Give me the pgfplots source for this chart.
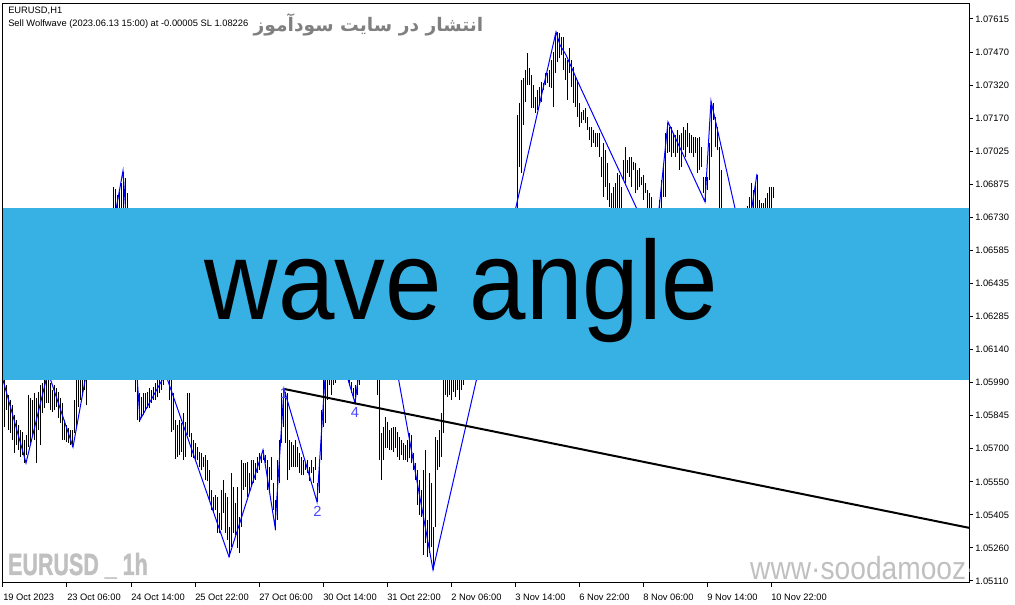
\documentclass[border=0pt]{standalone}
\usepackage{fontspec}
\setmainfont{Liberation Sans}
\newfontfamily\fafont[Script=Arabic]{DejaVu Sans}
\newfontfamily\heavy[FakeBold=1.5]{Liberation Sans}
\usepackage{pgfplots}
\usepackage{pgfplotstable}
\pgfplotsset{compat=1.18}
\TeXXeTstate=1
\definecolor{banner}{HTML}{37B1E3}
\definecolor{wolf}{RGB}{0,0,255}
\definecolor{lbl}{RGB}{70,70,255}
\definecolor{wm}{HTML}{C0C0C0}
\definecolor{fagray}{HTML}{808080}

% H1 bars: index, low, high
\pgfplotstableread{
i lo hi
0 1.05917 1.06073
1 1.05797 1.06029
2 1.05872 1.05984
3 1.05783 1.05940
4 1.05770 1.05917
5 1.05739 1.05895
6 1.05681 1.05850
7 1.05716 1.05828
8 1.05694 1.05806
9 1.05663 1.05783
10 1.05672 1.05774
11 1.05636 1.05739
12 1.05672 1.05761
13 1.05707 1.05940
14 1.05725 1.05926
15 1.05752 1.05917
16 1.05739 1.05949
17 1.05636 1.05926
18 1.05783 1.05953
19 1.05716 1.05984
20 1.05859 1.05993
21 1.05881 1.06029
22 1.05904 1.06051
23 1.05904 1.06042
24 1.05872 1.05993
25 1.05863 1.05962
26 1.05872 1.05984
27 1.05886 1.05971
28 1.05837 1.05953
29 1.05814 1.05926
30 1.05739 1.05904
31 1.05739 1.05828
32 1.05730 1.05806
33 1.05725 1.05792
34 1.05716 1.05783
35 1.05707 1.05783
36 1.05770 1.05917
37 1.05797 1.06006
38 1.05886 1.06051
39 1.05917 1.06096
40 1.05949 1.06140
41 1.05962 1.06185
42 1.05895 1.06229
43 1.06006 1.06274
44 1.06051 1.06229
45 1.06096 1.06274
46 1.06162 1.06341
47 1.06207 1.06363
48 1.06274 1.06430
49 1.06296 1.06452
50 1.06341 1.06497
51 1.06386 1.06564
52 1.06430 1.06608
53 1.06497 1.06653
54 1.06533 1.06698
55 1.06631 1.06866
56 1.06653 1.06858
57 1.06675 1.06831
58 1.06711 1.06844
59 1.06742 1.06884
60 1.06764 1.06933
61 1.06675 1.06907
62 1.06586 1.06840
63 1.06363 1.06631
64 1.06185 1.06452
65 1.06051 1.06274
66 1.05953 1.06185
67 1.05828 1.06006
68 1.05819 1.05949
69 1.05841 1.05930
70 1.05850 1.05949
71 1.05872 1.05949
72 1.05881 1.05953
73 1.05881 1.05971
74 1.05904 1.05962
75 1.05917 1.05975
76 1.05917 1.05993
77 1.05930 1.06029
78 1.05949 1.06051
79 1.05962 1.06033
80 1.05984 1.06033
81 1.06015 1.06033
82 1.06029 1.06030
83 1.05917 1.06020
84 1.05774 1.06006
85 1.05783 1.05949
86 1.05654 1.05828
87 1.05663 1.05806
88 1.05672 1.05828
89 1.05685 1.05814
90 1.05649 1.05859
91 1.05663 1.05819
92 1.05761 1.05949
93 1.05752 1.05949
94 1.05663 1.05770
95 1.05658 1.05739
96 1.05649 1.05725
97 1.05649 1.05707
98 1.05617 1.05685
99 1.05605 1.05681
100 1.05617 1.05663
101 1.05561 1.05672
102 1.05556 1.05649
103 1.05472 1.05605
104 1.05427 1.05516
105 1.05414 1.05485
106 1.05427 1.05494
107 1.05325 1.05485
108 1.05325 1.05414
109 1.05338 1.05516
110 1.05414 1.05560
111 1.05325 1.05503
112 1.05293 1.05485
113 1.05218 1.05352
114 1.05263 1.05592
115 1.05325 1.05529
116 1.05316 1.05459
117 1.05258 1.05529
118 1.05236 1.05396
119 1.05352 1.05649
120 1.05516 1.05636
121 1.05529 1.05636
122 1.05485 1.05640
123 1.05503 1.05592
124 1.05529 1.05649
125 1.05547 1.05649
126 1.05561 1.05636
127 1.05592 1.05663
128 1.05605 1.05681
129 1.05636 1.05672
130 1.05649 1.05694
131 1.05636 1.05672
132 1.05516 1.05649
133 1.05516 1.05617
134 1.05560 1.05663
135 1.05427 1.05547
136 1.05338 1.05472
137 1.05383 1.05649
138 1.05547 1.05739
139 1.05725 1.05949
140 1.05797 1.05971
141 1.05725 1.05953
142 1.05560 1.05949
143 1.05605 1.05739
144 1.05617 1.05730
145 1.05617 1.05716
146 1.05617 1.05739
147 1.05617 1.05707
148 1.05592 1.05681
149 1.05583 1.05663
150 1.05583 1.05649
151 1.05605 1.05636
152 1.05592 1.05649
153 1.05556 1.05617
154 1.05592 1.05649
155 1.05547 1.05617
156 1.05605 1.05663
157 1.05463 1.05547
158 1.05503 1.05649
159 1.05649 1.05872
160 1.05797 1.06051
161 1.05814 1.06073
162 1.05917 1.06229
163 1.05984 1.06292
164 1.05940 1.06251
165 1.05984 1.06220
166 1.05993 1.06185
167 1.06024 1.06162
168 1.06042 1.06131
169 1.06024 1.06104
170 1.06015 1.06073
171 1.06011 1.06051
172 1.06011 1.06033
173 1.05980 1.06015
174 1.05948 1.05997
175 1.05926 1.05971
176 1.05904 1.05984
177 1.05940 1.06051
178 1.05984 1.06185
179 1.06029 1.06274
180 1.06051 1.06341
181 1.06073 1.06408
182 1.06096 1.06474
183 1.06087 1.06533
184 1.06060 1.06564
185 1.06051 1.06586
186 1.06029 1.06590
187 1.05940 1.06497
188 1.05650 1.06452
189 1.05560 1.05770
190 1.05649 1.05797
191 1.05703 1.05841
192 1.05703 1.05819
193 1.05694 1.05783
194 1.05694 1.05792
195 1.05685 1.05797
196 1.05703 1.05797
197 1.05663 1.05774
198 1.05649 1.05752
199 1.05672 1.05739
200 1.05649 1.05725
201 1.05649 1.05716
202 1.05640 1.05739
203 1.05658 1.05770
204 1.05636 1.05761
205 1.05605 1.05681
206 1.05561 1.05636
207 1.05449 1.05605
208 1.05405 1.05561
209 1.05396 1.05516
210 1.05227 1.05605
211 1.05280 1.05694
212 1.05218 1.05383
213 1.05236 1.05592
214 1.05263 1.05547
215 1.05160 1.05352
216 1.05352 1.05752
217 1.05605 1.05739
218 1.05617 1.05783
219 1.05663 1.05859
220 1.05770 1.06051
221 1.05940 1.06118
222 1.05930 1.06140
223 1.05940 1.06162
224 1.05917 1.06140
225 1.05953 1.06162
226 1.05930 1.06185
227 1.05962 1.06207
228 1.05917 1.06229
229 1.05962 1.06229
230 1.05984 1.06207
231 1.06015 1.06185
232 1.06029 1.06162
233 1.06042 1.06185
234 1.06029 1.06162
235 1.06029 1.06185
236 1.06029 1.06207
237 1.06042 1.06229
238 1.06051 1.06274
239 1.06073 1.06318
240 1.06118 1.06363
241 1.06140 1.06408
242 1.06185 1.06430
243 1.06229 1.06474
244 1.06274 1.06519
245 1.06296 1.06541
246 1.06341 1.06586
247 1.06363 1.06631
248 1.06408 1.06653
249 1.06430 1.06684
250 1.06474 1.06711
251 1.06519 1.06729
252 1.06564 1.06742
253 1.06586 1.06755
254 1.06608 1.06755
255 1.06631 1.06764
256 1.06653 1.06764
257 1.06630 1.07187
258 1.06956 1.07241
259 1.06929 1.07343
260 1.07143 1.07352
261 1.07245 1.07388
262 1.07321 1.07464
263 1.07321 1.07397
264 1.07219 1.07366
265 1.07219 1.07321
266 1.07196 1.07268
267 1.07210 1.07299
268 1.07241 1.07312
269 1.07245 1.07335
270 1.07299 1.07330
271 1.07321 1.07375
272 1.07330 1.07375
273 1.07312 1.07388
274 1.07308 1.07433
275 1.07223 1.07468
276 1.07375 1.07553
277 1.07424 1.07557
278 1.07441 1.07553
279 1.07455 1.07535
280 1.07388 1.07535
281 1.07343 1.07441
282 1.07254 1.07433
283 1.07375 1.07486
284 1.07312 1.07433
285 1.07241 1.07401
286 1.07223 1.07357
287 1.07179 1.07343
288 1.07134 1.07241
289 1.07152 1.07201
290 1.07165 1.07210
291 1.07152 1.07219
292 1.07121 1.07179
293 1.07076 1.07134
294 1.07045 1.07134
295 1.07063 1.07121
296 1.07045 1.07107
297 1.07045 1.07107
298 1.07000 1.07107
299 1.06911 1.07000
300 1.06822 1.07063
301 1.06867 1.07031
302 1.06809 1.06974
303 1.06777 1.06884
304 1.06653 1.06840
305 1.06630 1.06867
306 1.06630 1.06884
307 1.06653 1.06929
308 1.06630 1.06920
309 1.06608 1.06867
310 1.06898 1.06987
311 1.06884 1.07045
312 1.06929 1.06987
313 1.06911 1.07000
314 1.06867 1.07000
315 1.06942 1.06978
316 1.06840 1.06974
317 1.06853 1.06942
318 1.06867 1.06951
319 1.06875 1.06911
320 1.06809 1.06920
321 1.06840 1.06884
322 1.06653 1.06853
323 1.06630 1.06840
324 1.06608 1.06822
325 1.06586 1.06742
326 1.06586 1.06719
327 1.06608 1.06742
328 1.06630 1.06809
329 1.06675 1.06898
330 1.06822 1.06974
331 1.06822 1.07107
332 1.07018 1.07152
333 1.07023 1.07134
334 1.07000 1.07134
335 1.07018 1.07107
336 1.07000 1.07098
337 1.07018 1.07121
338 1.06942 1.07098
339 1.06956 1.07107
340 1.07031 1.07134
341 1.07000 1.07121
342 1.07045 1.07152
343 1.07018 1.07107
344 1.07018 1.07098
345 1.07000 1.07089
346 1.07018 1.07089
347 1.06929 1.07085
348 1.06942 1.07089
349 1.06956 1.07045
350 1.06840 1.06911
351 1.06800 1.06911
352 1.06853 1.06911
353 1.06898 1.07063
354 1.07000 1.07245
355 1.07165 1.07241
356 1.07045 1.07179
357 1.07031 1.07134
358 1.06586 1.07045
359 1.06630 1.06942
360 1.06630 1.06742
361 1.06608 1.06729
362 1.06586 1.06719
363 1.06564 1.06698
364 1.06541 1.06698
365 1.06550 1.06675
366 1.06532 1.06666
367 1.06532 1.06653
368 1.06519 1.06639
369 1.06532 1.06630
370 1.06550 1.06653
371 1.06564 1.06675
372 1.06630 1.06781
373 1.06653 1.06822
374 1.06675 1.06884
375 1.06653 1.06853
376 1.06698 1.06884
377 1.06719 1.06920
378 1.06675 1.06809
379 1.06666 1.06795
380 1.06675 1.06795
381 1.06684 1.06818
382 1.06698 1.06840
383 1.06719 1.06867
384 1.06742 1.06867
385 1.06818 1.06867
}\bars

\begin{document}
\begin{tikzpicture}[x=0.75pt,y=0.75pt]
\path[use as bounding box] (-3,-22) rectangle (1012,583);
\begin{axis}[
  name=ax, at={(0,0)}, anchor=south west,
  scale only axis, width=724.5pt, height=434.25pt,
  xmin=0, xmax=483, ymin=1.051011, ymax=1.076819,
  axis line style={line width=0.75pt},
  tick style={black, line width=0.75pt},
  tick align=outside, major tick length=3pt,
  xtick pos=left, ytick pos=right, yticklabel pos=right,
  xtick={0,32,...,384},
  xticklabels={19 Oct 2023,23 Oct 06:00,24 Oct 14:00,25 Oct 22:00,27 Oct 06:00,30 Oct 14:00,31 Oct 22:00,2 Nov 06:00,3 Nov 14:00,6 Nov 22:00,8 Nov 06:00,9 Nov 14:00,10 Nov 22:00},
  ytick={1.05110,1.052574,1.054047,1.055521,1.056994,1.058468,1.059941,1.061415,1.062888,1.064362,1.065835,1.067309,1.068782,1.070256,1.071729,1.073203,1.074676,1.076150},
  yticklabels={1.05110,1.05260,1.05405,1.05550,1.05700,1.05845,1.05990,1.06140,1.06285,1.06435,1.06585,1.06730,1.06875,1.07025,1.07170,1.07320,1.07470,1.07615},
  ticklabel style={font=\fontsize{7}{8}\selectfont},
  xticklabel style={anchor=base west, inner sep=0pt, yshift=-10.5pt},
  yticklabel style={anchor=west, inner sep=0pt, xshift=1.5pt},
  /pgf/number format/assume math mode=true,
]
\addplot[draw=none, mark=none, forget plot,
  error bars/.cd, y dir=plus, y explicit, error mark=none,
  error bar style={draw=black, line width=0.75pt, solid}]
  table[x=i, y=lo, y error plus expr=\thisrow{hi}-\thisrow{lo}] {\bars};
% zigzag of the Wolfe wave
\addplot[wolf, line width=0.75pt, mark=none] coordinates {
(0,1.06006) (11.5,1.05636) (22.5,1.06042) (35,1.05707) (60,1.06938)
(68.5,1.05828) (81.25,1.06033) (113,1.05218) (130,1.05694) (136,1.05352)
(140.5,1.05966) (157,1.05463) (163,1.06292) (176,1.05904) (186,1.06590)
(215,1.05160) (276.5,1.07557) (278.5,1.07499) (281.5,1.07455) (287,1.07343)
(326,1.06595) (332.5,1.07156) (351,1.06800) (354,1.07250) (371,1.06572)
(377,1.06925)};
% line through points 1 and 4
\addplot[black, line width=1.5pt, mark=none] coordinates {(140.5,1.05966) (483,1.05347)};
\node[text=lbl, inner sep=0pt, font=\fontsize{11}{12}\selectfont] at (axis cs:140.5,1.05948) {1};
\node[text=lbl, inner sep=0pt, font=\fontsize{11}{12}\selectfont] at (axis cs:157.25,1.05422) {2};
\node[text=lbl, inner sep=0pt, font=\fontsize{11}{12}\selectfont] at (axis cs:176,1.05859) {4};
\end{axis}
% header texts
\node[anchor=base west, inner sep=0pt, font=\fontsize{7}{8}\selectfont] at (5,569) {EURUSD,H1};
\node[anchor=base west, inner sep=0pt, font=\fontsize{7}{8}\selectfont] at (5,556) {Sell Wolfwave (2023.06.13 15:00) at -0.00005 SL 1.08226};
\node[anchor=center, inner sep=0pt, text=fagray, font=\fafont\fontsize{14}{17}\selectfont\bfseries] at (365.5,558) {\beginR انتشار در سایت سودآموز\endR};
% banner
\fill[banner] (0,203) rectangle (965.5,375);
\node[anchor=base, inner sep=0pt, xscale=0.906, font=\fontsize{84}{90}\selectfont] at (458.5,263) {wave angle};
% watermarks
\node[anchor=base west, inner sep=0pt, text=wm, xscale=0.70, font=\heavy\bfseries\fontsize{23}{26}\selectfont] at (5,8) {EURUSD \_ 1h};
\begin{scope}
\clip (0,0) rectangle (966,579);
\node[anchor=base west, inner sep=0pt, text=wm, xscale=0.88, font=\fontsize{24}{28}\selectfont] at (747,3) {www·soodamooz·com};
\end{scope}
\end{tikzpicture}
\end{document}
